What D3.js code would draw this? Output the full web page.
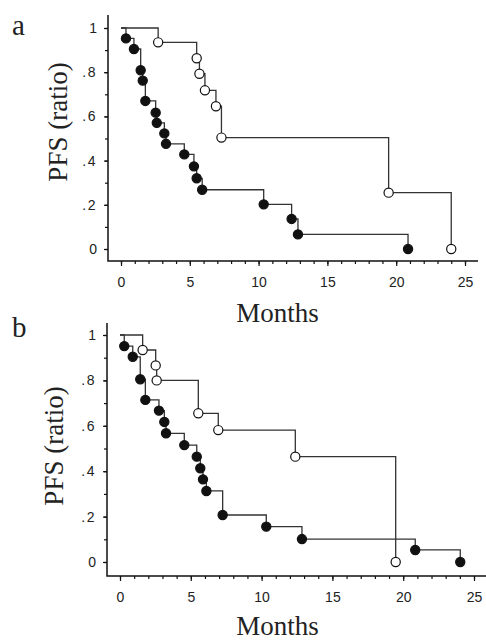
<!DOCTYPE html>
<html>
<head>
<meta charset="utf-8">
<script src="https://cdn.jsdelivr.net/npm/d3@7"></script>
<style>
  html, body { margin: 0; padding: 0; background: #fff; }
  .tick text { font-family: "Liberation Sans Narrow", "Arial Narrow", "Liberation Sans", sans-serif; font-size: 14px; fill: #222; }
  .serif { font-family: "Liberation Serif", "Times New Roman", serif; fill: #222; }
</style>
</head>
<body>
<svg id="chart" width="486" height="641"></svg>
<script>
const monthTicks = [0, 5, 10, 15, 20, 25];
const ratioTicks = [0, 0.2, 0.4, 0.6, 0.8, 1];

// panel a
const aOpenMonths = [2.7, 5.5, 5.7, 6.1, 6.9, 7.3, 19.45, 24.0];
const aOpenPFS = [0.935, 0.863, 0.793, 0.718, 0.646, 0.504, 0.255, 0];
const aFilledMonths = [0.36, 0.94, 1.43, 1.58, 1.77, 2.52, 2.6, 3.15, 3.27, 4.6, 5.3, 5.5, 5.9, 10.37, 12.4, 12.86, 20.86];
const aFilledPFS = [0.953, 0.905, 0.809, 0.762, 0.67, 0.617, 0.571, 0.523, 0.476, 0.428, 0.374, 0.32, 0.268, 0.202, 0.136, 0.066, 0];

// panel b
const bOpenMonths = [1.6, 2.52, 2.59, 5.53, 6.94, 12.38, 19.47];
const bOpenPFS = [0.934, 0.866, 0.8, 0.655, 0.581, 0.464, 0];
const bFilledMonths = [0.3, 0.9, 1.43, 1.79, 2.75, 3.13, 3.25, 4.54, 5.42, 5.67, 5.86, 6.1, 7.25, 10.33, 12.85, 20.85, 24.03];
const bFilledPFS = [0.951, 0.904, 0.805, 0.714, 0.667, 0.617, 0.567, 0.515, 0.464, 0.413, 0.364, 0.313, 0.207, 0.156, 0.101, 0.053, 0];

const svg = d3.select('#chart');

const panels = [
    { letter: 'a', letterY: 35, x0: 121, x1: 465, y0: 249, y1: 28, axisX: 108, axisY: 261, axisTop: 15, axisRight: 478,
      labelX: 67, labelY: 122, monthsY: 322,
      open: [aOpenMonths, aOpenPFS], filled: [aFilledMonths, aFilledPFS] },
    { letter: 'b', letterY: 337, x0: 120, x1: 474, y0: 562, y1: 335, axisX: 107, axisY: 576, axisTop: 323, axisRight: 486,
      labelX: 63, labelY: 446, monthsY: 635,
      open: [bOpenMonths, bOpenPFS], filled: [bFilledMonths, bFilledPFS] }
];

function drawPanel(p) {
    const g = svg.append('g');
    const x = d3.scaleLinear().domain([0, 25]).range([p.x0, p.x1]);
    const y = d3.scaleLinear().domain([0, 1]).range([p.y0, p.y1]);

    // minor ticks
    g.append('g')
        .attr('transform', `translate(0,${p.axisY})`)
        .call(d3.axisBottom(x).tickValues(d3.range(0, 26)).tickSize(3).tickFormat(''))
        .call(s => s.select('.domain').remove());
    g.append('g')
        .attr('transform', `translate(${p.axisX},0)`)
        .call(d3.axisLeft(y).tickValues(d3.range(0, 1.01, 0.1)).tickSize(3).tickFormat(''))
        .call(s => s.select('.domain').remove());

    // major ticks with labels
    g.append('g')
        .attr('transform', `translate(0,${p.axisY})`)
        .call(d3.axisBottom(x).tickValues(monthTicks).tickSize(5).tickPadding(11))
        .call(s => s.select('.domain').remove());
    g.append('g')
        .attr('transform', `translate(${p.axisX},0)`)
        .call(d3.axisLeft(y).tickValues(ratioTicks).tickSize(4).tickPadding(7)
            .tickFormat(d => d === 0 ? '0' : d === 1 ? '1' : d3.format('.1f')(d).replace(/^0/, '')))
        .call(s => s.select('.domain').remove())
        .selectAll('text').attr('letter-spacing', d => (d > 0 && d < 1) ? '1.5px' : null);

    g.selectAll('.tick line').attr('stroke', '#111').attr('stroke-width', 1.2);

    // axis lines
    g.append('path')
        .attr('d', `M${p.axisX},${p.axisTop}V${p.axisY}H${p.axisRight}`)
        .attr('fill', 'none').attr('stroke', '#111').attr('stroke-width', 1.5);

    const line = d3.line().x(d => x(d[0])).y(d => y(d[1])).curve(d3.curveStepAfter);

    [[p.open, '#fff'], [p.filled, '#111']].forEach(([series, fill]) => {
        const pts = [[0, 1]].concat(series[0].map((m, i) => [m, series[1][i]]));
        g.append('path')
            .attr('d', line(pts))
            .attr('fill', 'none').attr('stroke', '#333').attr('stroke-width', 1.3);
        g.append('g').selectAll('circle')
            .data(pts.slice(1))
            .join('circle')
            .attr('cx', d => x(d[0]))
            .attr('cy', d => y(d[1]))
            .attr('r', 4.6)
            .attr('fill', fill)
            .attr('stroke', '#111')
            .attr('stroke-width', 1.2);
    });

    g.append('text').attr('class', 'serif')
        .attr('x', 12).attr('y', p.letterY)
        .attr('font-size', 29).text(p.letter);

    g.append('text').attr('class', 'serif')
        .attr('transform', `translate(${p.labelX},${p.labelY}) rotate(-90)`)
        .attr('text-anchor', 'middle')
        .attr('font-size', 27).text('PFS (ratio)');

    g.append('text').attr('class', 'serif')
        .attr('x', 277.5).attr('y', p.monthsY)
        .attr('text-anchor', 'middle')
        .attr('font-size', 27).text('Months');
}

panels.forEach(drawPanel);
</script>
</body>
</html>
